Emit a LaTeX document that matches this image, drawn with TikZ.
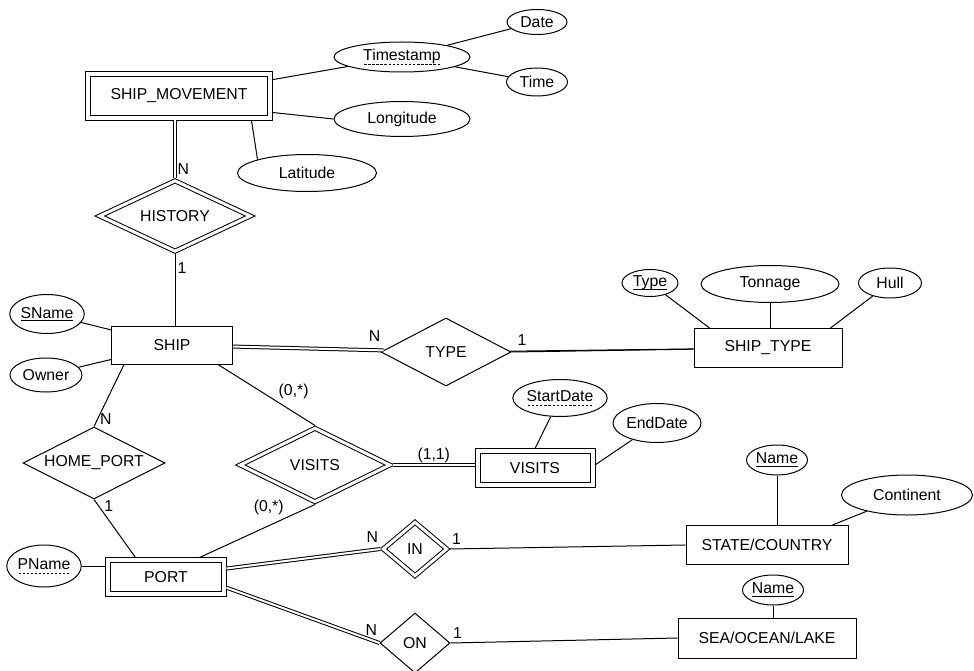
\documentclass[tikz,border=0pt]{standalone}
\usepackage{fontspec}
\setmainfont{Liberation Sans}
\usetikzlibrary{shapes.geometric}

% dashed underline for partial keys
\newcommand\dashword[1]{\setbox0\hbox{#1}\rlap{\raisebox{-4pt}{\hbox to \wd0{\xleaders\hbox to 4pt{\hss\rule{2.4pt}{0.7pt}\hss}\hfill}}}\box0}
\newcommand\keyword[1]{\setbox0\hbox{#1}\rlap{\raisebox{-3pt}{\rule{\wd0}{0.7pt}}}\box0}

\begin{document}
\begin{tikzpicture}[x=1pt,y=-1pt,line width=1pt,
   font=\fontsize{15.8}{18}\selectfont,
   entity/.style={rectangle,draw,inner sep=2pt},
   weak entity/.style={rectangle,draw,double,double distance=4pt,outer sep=2.5pt,inner sep=2pt},
   attribute/.style={ellipse,draw,inner sep=0pt},
   relation/.style={diamond,draw,aspect=2,inner sep=0pt},
   weak relation/.style={diamond,draw,double,double distance=3pt,aspect=2,outer sep=2pt,inner sep=0pt},
   total/.style={double,double distance=2pt},
   card/.style={inner sep=2pt}]

  \useasboundingbox (0,0) rectangle (974,671);

  % entities
  \node[weak entity,minimum width=182pt,minimum height=44pt] (sm) at (179,96) {SHIP\_MOVEMENT};
  \node[entity,minimum width=121pt,minimum height=38pt] (ship) at (172,345) {SHIP};
  \node[entity,minimum width=148pt,minimum height=39pt] (stype) at (768,348) {SHIP\_TYPE};
  \node[weak entity,minimum width=115pt,minimum height=34pt] (vis) at (535,468) {VISITS};
  \node[weak entity,minimum width=116pt,minimum height=34pt] (port) at (166,577) {PORT};
  \node[entity,minimum width=162pt,minimum height=39pt] (sc) at (767,545) {STATE/COUNTRY};
  \node[entity,minimum width=178pt,minimum height=40pt] (sea) at (767,638) {SEA/OCEAN/LAKE};

  % relationships
  \node[weak relation,minimum width=152pt,minimum height=72pt] (hist) at (175,216) {HISTORY};
  \node[relation,minimum width=130pt,minimum height=68pt] (type) at (446,352) {TYPE};
  \node[weak relation,minimum width=151pt,minimum height=75pt] (vrel) at (315,465) {VISITS};
  \node[relation,minimum width=142pt,minimum height=72pt] (hp) at (94,463) {HOME\_PORT};
  \node[weak relation,minimum width=65pt,minimum height=55pt] (in) at (415,549) {IN};
  \node[relation,minimum width=70pt,minimum height=60pt] (on) at (415,643) {ON};

  % attributes
  \node[attribute,minimum width=136pt,minimum height=30pt] (ts) at (402,57) {\dashword{Timestamp}};
  \node[attribute,minimum width=60pt,minimum height=25pt] (date) at (537,22) {Date};
  \node[attribute,minimum width=61pt,minimum height=28pt] (time) at (537,82) {Time};
  \node[attribute,minimum width=136pt,minimum height=35pt] (lon) at (402,119) {Longitude};
  \node[attribute,minimum width=139pt,minimum height=37pt] (lat) at (307,173) {Latitude};
  \node[attribute,minimum width=71pt,minimum height=39pt] (sname) at (47,314) {\keyword{SName}};
  \node[attribute,minimum width=72pt,minimum height=34pt] (owner) at (46,375) {Owner};
  \node[attribute,minimum width=56pt,minimum height=27pt] (typ) at (650,283) {\keyword{Type}};
  \node[attribute,minimum width=138pt,minimum height=37pt] (ton) at (770,284) {Tonnage};
  \node[attribute,minimum width=63pt,minimum height=30pt] (hull) at (890,283) {Hull};
  \node[attribute,minimum width=89pt,minimum height=37pt] (sd) at (560,398) {\dashword{StartDate}};
  \node[attribute,minimum width=88pt,minimum height=39pt] (ed) at (657,423) {EndDate};
  \node[attribute,minimum width=72pt,minimum height=42pt] (pname) at (44,566) {\dashword{PName}};
  \node[attribute,minimum width=61pt,minimum height=30pt] (scn) at (777,460) {\keyword{Name}};
  \node[attribute,minimum width=131pt,minimum height=40pt] (cont) at (907,495) {Continent};
  \node[attribute,minimum width=61pt,minimum height=30pt] (sean) at (773,590) {\keyword{Name}};

  % plain links
  \foreach \from/\to in {sm/ts,ts/date,ts/time,sname/ship,owner/ship,type/stype} \draw (\from) -- (\to);
  \draw (sm.-10) -- (lon.west);
  \draw ([xshift=-21pt]sm.south east) -- (lat.north west);
  \draw (typ) -- ([xshift=16pt]stype.north west);
  \draw (ton.south) -- (ton.south |- stype.north);
  \draw (hull) -- ([xshift=-12pt]stype.north east);
  \draw (sd) -- (vis.north);
  \draw (ed) -- ([yshift=3pt]vis.east);
  \draw (pname.east) -- (pname.east -| port.west);
  \draw (scn.south) -- (scn.south |- sc.north);
  \draw (cont) -- ([xshift=-16pt]sc.north east);
  \draw (sean.south) -- (sean.south |- sea.north);

  % links with cardinalities
  \draw[total] (hist |- sm.south) -- node[card,pos=0.85,right] (c1) {N} (hist.north);
  \draw (hist.south) -- node[card,pos=0.2,right] (c2) {1} (hist.south |- ship.north);
  \draw[total] (ship) -- node[card,pos=0.94,above=6pt] (c3) {N} (type);
  \draw (type.east) -- node[card,pos=0.02,anchor=south west,yshift=4pt] (c4) {1} (stype);
  \draw ([xshift=13pt]ship.south west) -- node[card,pos=0.88,right] (c5) {N} (hp.north);
  \draw (hp.south) -- node[card,pos=0.12,right=3pt] (c6) {1} ([xshift=30pt]port.north west);
  \draw ([xshift=-15pt]ship.south east) -- node[card,pos=0.6,above right] (c7) {(0,*)} (vrel.north);
  \draw ([xshift=-27pt]port.north east) -- node[card,pos=0.75,above left] (c8) {(0,*)} (vrel.south);
  \draw[total] (vrel.east) -- node[card,above] (c9) {(1,1)} (vrel.east -| vis.west);
  \draw[total] (port.8) -- node[card,pos=1,anchor=south east,yshift=4pt] (c10) {N} (in.west);
  \draw (in.east) -- node[card,pos=0,anchor=south west,yshift=2pt] (c11) {1} (sc.west);
  \draw[total] (port.-10) -- node[card,pos=1,anchor=south east,yshift=5pt] (c12) {N} (on.west);
  \draw (on.east) -- node[card,pos=0,anchor=south west,yshift=2pt] (c13) {1} (sea.west);
\end{tikzpicture}
\end{document}
